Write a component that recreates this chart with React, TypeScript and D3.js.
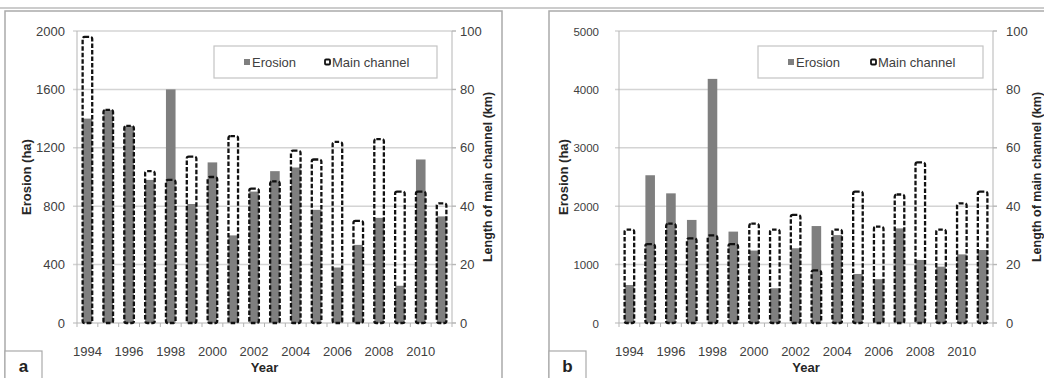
import * as d3 from 'd3'

const years = [1994, 1995, 1996, 1997, 1998, 1999, 2000, 2001, 2002, 2003, 2004, 2005, 2006, 2007, 2008, 2009, 2010, 2011]
const yearLabels = [1994, 1996, 1998, 2000, 2002, 2004, 2006, 2008, 2010]

// panel a
const erosionA = [1400, 1460, 1350, 980, 1600, 815, 1100, 600, 900, 1040, 1065, 775, 380, 535, 720, 255, 1120, 730]
const channelA = [98, 73, 67.5, 52, 49, 57, 50, 64, 46, 48.5, 59, 56, 62, 35, 63, 45, 45, 41]
const erosionTicksA = [0, 400, 800, 1200, 1600, 2000]

// panel b
const erosionB = [650, 2530, 2220, 1765, 4180, 1565, 1240, 595, 1280, 1660, 1505, 840, 750, 1620, 1080, 965, 1175, 1250]
const channelB = [32, 27, 34, 29, 30, 27, 34, 32, 37, 18, 32, 45, 33, 44, 55, 32, 41, 45]
const erosionTicksB = [0, 1000, 2000, 3000, 4000, 5000]

const channelTicks = [0, 20, 40, 60, 80, 100]

const font = '"Liberation Sans", Arial, sans-serif'
const top = 31
const bottom = 323

const Panel = ({ erosion, channel, ticks, letter, lay }) => {
  const x = d3
    .scaleBand()
    .domain(years.map(String))
    .range([lay.x0, lay.x1])
    .paddingInner(0.54)
    .paddingOuter(0.27)
  const yL = d3.scaleLinear().domain(d3.extent(ticks)).range([bottom, top])
  const yR = d3.scaleLinear().domain(d3.extent(channelTicks)).range([bottom, top])
  const step = x.step()
  const bw = x.bandwidth()
  const midY = (top + bottom) / 2
  const lg = lay.legend

  return (
    <g>
      <rect x={lay.frameX} y={11} width={lay.frameW} height={380} fill="white" stroke="#aaa" strokeWidth="1.5" />
      {ticks.slice(1).map(t => (
        <line key={t} x1={lay.x0 - 4} x2={lay.x1 + 4} y1={yL(t)} y2={yL(t)} stroke="#d4d4d4" strokeWidth="1.5" />
      ))}
      {channelTicks.map(t => (
        <line key={'r' + t} x1={lay.x1} x2={lay.x1 + 4} y1={yR(t)} y2={yR(t)} stroke="#b5b5b5" />
      ))}
      <line x1={lay.x0} x2={lay.x0} y1={top} y2={bottom} stroke="#b5b5b5" />
      <line x1={lay.x1} x2={lay.x1} y1={top} y2={bottom} stroke="#b5b5b5" />
      <line x1={lay.x0 - 4} x2={lay.x1 + 4} y1={bottom} y2={bottom} stroke="#b5b5b5" />
      {d3.range(years.length + 1).map(i => (
        <line key={'t' + i} x1={lay.x0 + i * step} x2={lay.x0 + i * step} y1={bottom} y2={bottom + 4} stroke="#b5b5b5" />
      ))}

      {years.map((yr, i) => (
        <rect key={'e' + yr} x={x(String(yr))} y={yL(erosion[i])} width={bw} height={bottom - yL(erosion[i])} fill="#7f7f7f" />
      ))}
      {years.map((yr, i) => (
        <rect
          key={'c' + yr}
          x={x(String(yr))}
          y={yR(channel[i])}
          width={bw}
          height={bottom - yR(channel[i])}
          fill="none"
          stroke="#111"
          strokeWidth="2.3"
          strokeDasharray="4.5 2"
          rx="2"
        />
      ))}

      <rect x={lg.x} y={46} width={lg.w} height={32} fill="white" stroke="#c4c4c4" strokeWidth="1.2" />
      <rect x={lg.m1} y={59} width={6} height={6} fill="#7f7f7f" />
      <text x={lg.m1 + 8} y={67} fontFamily={font} fontSize="13" fill="#404040">Erosion</text>
      <rect x={lg.m2 + 1} y={59.5} width={5} height={5} fill="white" stroke="#111" strokeWidth="1.8" rx="1" />
      <text x={lg.m2 + 8} y={67} fontFamily={font} fontSize="13" fill="#404040">Main channel</text>

      {ticks.map(t => (
        <text key={'l' + t} x={lay.x0 - lay.leftGap} y={yL(t) + 4.5} textAnchor="end" fontFamily={font} fontSize={lay.leftFont} fill="#404040">
          {t}
        </text>
      ))}
      {channelTicks.map(t => (
        <text key={'rl' + t} x={lay.x1 + lay.rightGap} y={yR(t) + 4.5} fontFamily={font} fontSize="13" fill="#404040">
          {t}
        </text>
      ))}
      {yearLabels.map(yr => (
        <text key={'y' + yr} x={x(String(yr)) + bw / 2} y={356} textAnchor="middle" fontFamily={font} fontSize="13" fill="#404040">
          {yr}
        </text>
      ))}
      <text x={(lay.x0 + lay.x1) / 2} y={372} textAnchor="middle" fontFamily={font} fontSize="13" fontWeight="bold" fill="#262626">
        Year
      </text>
      <text
        transform={`translate(${lay.leftTitleX},${midY}) rotate(-90)`}
        textAnchor="middle"
        fontFamily={font}
        fontSize="13"
        fontWeight="bold"
        fill="#262626"
      >
        Erosion (ha)
      </text>
      <text
        transform={`translate(${lay.rightTitleX},${midY}) rotate(-90)`}
        textAnchor="middle"
        fontFamily={font}
        fontSize="12.5"
        fontWeight="bold"
        fill="#262626"
      >
        Length of main channel (km)
      </text>

      <rect x={lay.frameX} y={351} width={lay.boxW} height={30} fill="white" stroke="#aaa" strokeWidth="1.2" />
      <text x={lay.frameX + lay.boxW / 2} y={372} textAnchor="middle" fontFamily={font} fontSize="17" fontWeight="bold" fill="#222">
        {letter}
      </text>
    </g>
  )
}

const layoutA = {
  x0: 77,
  x1: 452,
  frameX: 5,
  frameW: 497,
  leftGap: 12,
  leftFont: 13,
  rightGap: 8,
  leftTitleX: 31,
  rightTitleX: 492,
  boxW: 37,
  legend: { x: 214, w: 223, m1: 244, m2: 324 },
}

const layoutB = {
  x0: 619,
  x1: 993,
  frameX: 549,
  frameW: 500,
  leftGap: 20,
  leftFont: 11.5,
  rightGap: 13,
  leftTitleX: 568,
  rightTitleX: 1041,
  boxW: 37,
  legend: { x: 758, w: 225, m1: 788, m2: 870 },
}

export default function App() {
  return (
    <svg width={1044} height={378} style={{ position: 'absolute', left: 0, top: 0, background: 'white' }}>
      <line x1={0} x2={1044} y1={8} y2={8} stroke="#bbb" strokeWidth="1.5" />
      <Panel erosion={erosionA} channel={channelA} ticks={erosionTicksA} letter="a" lay={layoutA} />
      <Panel erosion={erosionB} channel={channelB} ticks={erosionTicksB} letter="b" lay={layoutB} />
    </svg>
  )
}
